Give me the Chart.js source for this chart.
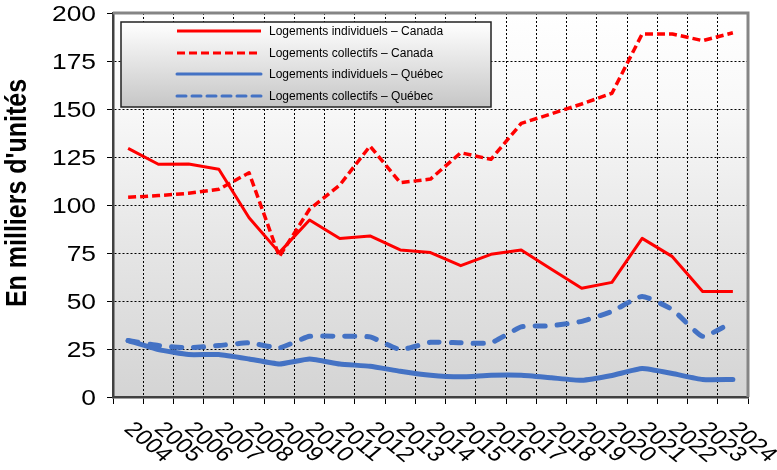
<!DOCTYPE html>
<html>
<head>
<meta charset="utf-8">
<script src="https://cdn.jsdelivr.net/npm/chart.js@4/dist/chart.umd.min.js"></script>
<style>
  html, body { margin: 0; padding: 0; background: #ffffff; }
  canvas { display: block; }
</style>
</head>
<body>
<canvas id="chart" width="777" height="470"></canvas>
<script>
const years = ['2004','2005','2006','2007','2008','2009','2010','2011','2012','2013','2014',
               '2015','2016','2017','2018','2019','2020','2021','2022','2023','2024'];

const canadaIndiv = [129.5, 121.2, 121.4, 118.6, 93.4, 75.2, 92.2, 82.6, 83.9, 76.6, 75.2,
                     68.4, 74.3, 76.6, 66.5, 56.6, 59.7, 82.6, 73.1, 54.9, 54.9];
const canadaColl  = [104.0, 104.9, 106.1, 108.2, 116.8, 73.1, 97.8, 110.4, 130.7, 111.6, 113.5,
                     127.2, 123.8, 142.5, 147.5, 152.6, 158.2, 189.1, 189.1, 185.6, 189.7];
const quebecIndiv = [29.4, 24.7, 22.1, 22.1, 19.8, 17.2, 19.8, 17.2, 16.0, 13.4, 11.3,
                     10.5, 11.3, 11.3, 10.0, 8.7, 11.2, 14.8, 12.2, 9.1, 9.1];
const quebecColl  = [29.4, 26.8, 25.6, 26.8, 28.2, 25.6, 31.6, 31.6, 31.3, 24.7, 28.5,
                     28.2, 28.2, 36.5, 37.1, 39.4, 44.6, 52.4, 45.5, 31.6, 39.1];

const seriesNames = [
  'Logements individuels – Canada',
  'Logements collectifs – Canada',
  'Logements individuels – Québec',
  'Logements collectifs – Québec'
];
const yTitle = "En milliers d'unités";

const FONT = '"Liberation Sans", Arial, sans-serif';
const STRETCH = 1.2; // axis text in the source is drawn wider than tall

// gradient behind the plot
const plotBackground = {
  id: 'plotBackground',
  beforeDraw(chart) {
    const {ctx, chartArea: a} = chart;
    const g = ctx.createLinearGradient(0, a.top, 0, a.bottom);
    g.addColorStop(0, '#ffffff');
    g.addColorStop(0.25, '#f8f8f8');
    g.addColorStop(0.6, '#e6e6e6');
    g.addColorStop(1, '#d4d4d4');
    ctx.save();
    ctx.fillStyle = g;
    ctx.fillRect(a.left, a.top, a.width, a.height);
    ctx.restore();
  }
};

// grey frame top and right
const plotFrame = {
  id: 'plotFrame',
  beforeDatasetsDraw(chart) {
    const {ctx, chartArea: a} = chart;
    ctx.save();
    ctx.strokeStyle = '#858585';
    ctx.lineWidth = 3;
    ctx.beginPath();
    ctx.moveTo(a.left, a.top);
    ctx.lineTo(a.right, a.top);
    ctx.lineTo(a.right, a.bottom);
    ctx.stroke();
    ctx.restore();
  }
};

// axis tick labels and title, wide like the source
const axisText = {
  id: 'axisText',
  afterDraw(chart) {
    const {ctx} = chart;
    const xs = chart.scales.x, ys = chart.scales.y;
    ctx.save();
    ctx.fillStyle = '#000000';

    ctx.font = '22px ' + FONT;
    ctx.textAlign = 'right';
    ctx.textBaseline = 'middle';
    ys.ticks.forEach(t => {
      const y = ys.getPixelForValue(t.value);
      ctx.save();
      ctx.translate(96, y + 2);
      ctx.scale(STRETCH, 1);
      ctx.fillText(String(t.value), 0, 0);
      ctx.restore();
    });

    ctx.font = '21px ' + FONT;
    ctx.textAlign = 'left';
    ctx.textBaseline = 'alphabetic';
    years.forEach((lab, i) => {
      const x = xs.getPixelForValue(i);
      ctx.save();
      ctx.translate(x - 5, 430);
      ctx.scale(STRETCH, 1);
      ctx.rotate(Math.PI / 4);
      ctx.fillText(lab, 0, 0);
      ctx.restore();
    });

    ctx.font = 'bold 25px ' + FONT;
    ctx.textAlign = 'center';
    ctx.textBaseline = 'middle';
    ctx.translate(18, 193);
    ctx.scale(STRETCH, 1);
    ctx.rotate(-Math.PI / 2);
    ctx.fillText(yTitle, 0, 0);
    ctx.restore();
  }
};

// boxed legend inside the plot
const boxLegend = {
  id: 'boxLegend',
  afterDatasetsDraw(chart) {
    const {ctx} = chart;
    const bx = 121, by = 22, bw = 370, bh = 85;
    ctx.save();
    const g = ctx.createLinearGradient(0, by, 0, by + bh);
    g.addColorStop(0, '#ffffff');
    g.addColorStop(1, '#c6c6c6');
    ctx.fillStyle = g;
    ctx.fillRect(bx, by, bw, bh);
    ctx.strokeStyle = '#222222';
    ctx.lineWidth = 1.5;
    ctx.strokeRect(bx, by, bw, bh);

    const rows = [31, 53, 74, 96];
    ctx.font = '12px ' + FONT;
    ctx.textAlign = 'left';
    ctx.textBaseline = 'middle';
    chart.data.datasets.forEach((ds, i) => {
      const y = rows[i];
      ctx.save();
      ctx.strokeStyle = ds.borderColor;
      ctx.lineWidth = 3;
      ctx.lineCap = ds.borderCapStyle || 'butt';
      ctx.setLineDash(ds.legendDash || []);
      ctx.beginPath();
      ctx.moveTo(177, y);
      ctx.lineTo(261, y);
      ctx.stroke();
      ctx.restore();
      ctx.fillStyle = '#000000';
      ctx.fillText(ds.label, 269, y + 1);
    });
    ctx.restore();
  }
};

const data = {
  labels: years,
  datasets: [
    {
      label: seriesNames[0],
      data: canadaIndiv,
      borderColor: '#ff0000',
      borderWidth: 3,
      tension: 0
    },
    {
      label: seriesNames[1],
      data: canadaColl,
      borderColor: '#ff0000',
      borderWidth: 3.5,
      borderDash: [8, 4],
      legendDash: [8, 4],
      tension: 0
    },
    {
      label: seriesNames[2],
      data: quebecIndiv,
      borderColor: '#4472c4',
      borderWidth: 5,
      borderCapStyle: 'round',
      tension: 0.15
    },
    {
      label: seriesNames[3],
      data: quebecColl,
      borderColor: '#4472c4',
      borderWidth: 5,
      borderDash: [10, 12],
      legendDash: [9, 6],
      borderCapStyle: 'round',
      tension: 0.15
    }
  ]
};

const config = {
  type: 'line',
  data: data,
  options: {
    responsive: false,
    animation: false,
    devicePixelRatio: 1,
    layout: { padding: { top: 13, right: 29, left: 0, bottom: 0 } },
    elements: {
      point: { radius: 0 },
      line: { borderJoinStyle: 'round', fill: false }
    },
    plugins: {
      legend: { display: false },
      tooltip: { enabled: false }
    },
    scales: {
      x: {
        offset: true,
        grid: { offset: true, color: '#000000', lineWidth: 1, tickLength: 7, tickColor: '#000000' },
        border: { color: '#404040', width: 2.5, dash: [2, 2] },
        ticks: { display: false },
        afterFit(s) { s.height = 73; }
      },
      y: {
        min: 0,
        max: 200,
        ticks: { stepSize: 25, display: false },
        grid: { color: '#000000', lineWidth: 1, tickLength: 6, tickColor: '#000000' },
        border: { color: '#404040', width: 2.5, dash: [2, 2] },
        afterFit(s) { s.width = 113; }
      }
    }
  },
  plugins: [plotBackground, plotFrame, boxLegend, axisText]
};

const chart = new Chart(document.getElementById('chart'), config);
</script>
</body>
</html>
